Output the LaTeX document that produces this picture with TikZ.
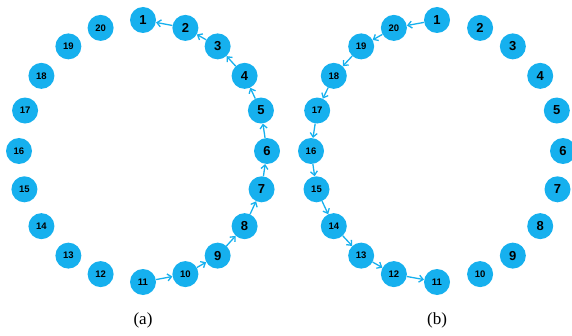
\documentclass[tikz,border=0pt]{standalone}
\usepackage{fontspec}
\setmainfont{Liberation Serif}
\newfontfamily\ringfont{Liberation Sans}
\usetikzlibrary{arrows.meta}
\definecolor{ringblue}{HTML}{16B0EE}

\begin{document}
\begin{tikzpicture}[
  x=1pt, y=1pt,
  every node/.style={align=center},
  ringnode/.style={circle, fill=ringblue, minimum size=26pt, inner sep=0pt},
  bignum/.style={font=\ringfont\bfseries\fontsize{13}{15}\selectfont},
  smallnum/.style={font=\ringfont\bfseries\fontsize{9.5}{11}\selectfont},
  link/.style={draw=ringblue, line width=1.3pt, -{Straight Barb[length=4pt,width=7pt]}},
  caption/.style={font=\fontsize{17}{19}\selectfont}
]
\useasboundingbox (0,0) rectangle (572,335);

% the two rings of 20 nodes
\foreach \k/\ang in {1/90, 2/70, 3/53, 4/35, 5/18, 6/0, 7/-17, 8/-35, 9/-53, 10/-70,
    11/-90, 12/-110, 13/-127, 14/-145, 15/-163, 16/180, 17/162, 18/145, 19/127, 20/110} {
  \ifnum\k<10 \def\numstyle{bignum}\else\def\numstyle{smallnum}\fi
  \node[ringnode, \numstyle] (a\k) at ({143+124*cos(\ang)},{184+131*sin(\ang)}) {\k};
  \node[ringnode, \numstyle] (b\k) at ({437+126*cos(\ang)},{184+131*sin(\ang)}) {\k};
}

% (a): 11 up to 1 clockwise back
\foreach \k [evaluate=\k as \j using int(\k-1)] in {2,...,11}
  \draw[link] (a\k) -- (a\j);

% (b): 1 down to 11 the other way
\draw[link] (b1) -- (b20);
\foreach \k [evaluate=\k as \j using int(\k-1)] in {12,...,20}
  \draw[link] (b\k) -- (b\j);

\node[caption] (capa) at (143,15) {(a)};
\node[caption] (capb) at (437,15) {(b)};
\end{tikzpicture}
\end{document}
